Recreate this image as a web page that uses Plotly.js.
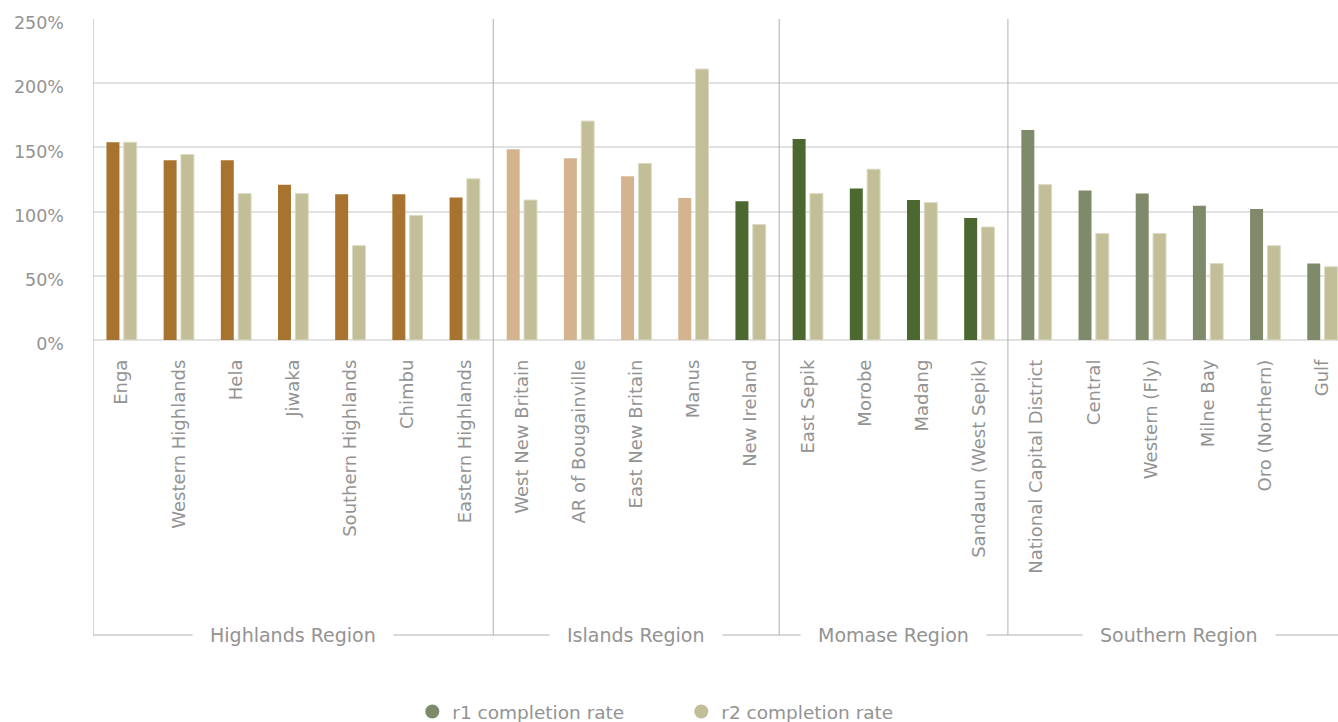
<!DOCTYPE html>
<html>
<head>
<meta charset="utf-8">
<script src="https://cdn.plot.ly/plotly-3.0.1.min.js"></script>
<style>html,body{margin:0;padding:0;background:#fff;}#chart{width:1338px;height:722px;}</style>
</head>
<body>
<div id="chart"></div>
<script>
// ---- data ----
const categories = ['Enga','Western Highlands','Hela','Jiwaka','Southern Highlands','Chimbu','Eastern Highlands',
  'West New Britain','AR of Bougainville','East New Britain','Manus','New Ireland',
  'East Sepik','Morobe','Madang','Sandaun (West Sepik)',
  'National Capital District','Central','Western (Fly)','Milne Bay','Oro (Northern)','Gulf'];
const regions = ['Highlands Region','Islands Region','Momase Region','Southern Region'];
const regionSizes = [7, 5, 4, 6];
const r1 = [154, 140, 140, 121, 113.5, 113.5, 111,
  148.5, 141.5, 127.5, 110.5, 108,
  156.5, 118, 109, 95,
  163.5, 116.5, 114, 104.5, 102, 59.5];
const r2 = [154, 144.5, 114, 114, 73.5, 97, 125.5,
  109, 170.5, 137.5, 211, 90,
  114, 133, 107, 88,
  121, 83, 83, 59.5, 73.5, 57];
const seriesNames = ['r1 completion rate', 'r2 completion rate'];
const yTicks = [0, 50, 100, 150, 200, 250];
const yTickText = ['0%', '50%', '100%', '150%', '200%', '250%'];

// ---- styles ----
const C_HIGH = '#a8732e', C_ISL = '#d4b48e', C_MOM = '#4a682f', C_SOU = '#7f8a6a', C_R2 = '#c2bf98';
const r1Colors = [C_HIGH,C_HIGH,C_HIGH,C_HIGH,C_HIGH,C_HIGH,C_HIGH,
  C_ISL,C_ISL,C_ISL,C_ISL,C_MOM,
  C_MOM,C_MOM,C_MOM,C_MOM,
  C_SOU,C_SOU,C_SOU,C_SOU,C_SOU,C_SOU];
const FONT = 'DejaVu Sans, sans-serif';
const GRAY = '#939393';
const LINE = '#b0b0b0';

const W = 1338, H = 722;
const mL = 92.6, mT = 19, plotH = 321;
const plotW = W - mL;
const catW = 57.2;
const xMax = -0.5 + plotW / catW;
const zeroPx = mT + plotH;
const yBracket = -(635 - zeroPx) / plotH;
const yLegend = -(712 - zeroPx) / plotH;

const idx = categories.map((_, i) => i);

const traces = [
  {type: 'bar', x: idx, y: r1, name: seriesNames[0], marker: {color: r1Colors}, showlegend: false},
  {type: 'bar', x: idx, y: r2, name: seriesNames[1], marker: {color: C_R2, line: {color: '#dcdac4', width: 1}}, showlegend: false},
  {type: 'scatter', mode: 'markers', x: [null], y: [null], name: seriesNames[0], marker: {symbol: 'circle', size: 14, color: C_SOU}},
  {type: 'scatter', mode: 'markers', x: [null], y: [null], name: seriesNames[1], marker: {symbol: 'circle', size: 14, color: C_R2}}
];

const shapes = [];
const annotations = [];
shapes.push({type: 'line', xref: 'x', yref: 'paper', x0: -0.5, x1: -0.5, y0: 1, y1: yBracket, line: {color: LINE, width: 1}});
shapes.push({type: 'line', xref: 'paper', yref: 'paper', x0: 0, x1: 1, y0: yBracket, y1: yBracket, line: {color: LINE, width: 1}});
let start = 0;
regions.forEach((r, k) => {
  const end = start + regionSizes[k];
  if (k > 0) {
    shapes.push({type: 'line', xref: 'x', yref: 'paper', x0: start - 0.5, x1: start - 0.5, y0: 1, y1: yBracket, line: {color: LINE, width: 1}});
  }
  annotations.push({xref: 'x', yref: 'paper', x: (start + end - 1) / 2, y: yBracket, text: r, showarrow: false,
    font: {family: FONT, size: 19, color: GRAY}, bgcolor: '#ffffff', borderpad: 17, xanchor: 'center', yanchor: 'middle'});
  start = end;
});

const layout = {
  width: W, height: H,
  margin: {l: mL, r: 0, t: mT, b: H - mT - plotH, pad: 0, autoexpand: false},
  paper_bgcolor: '#fff', plot_bgcolor: '#fff',
  font: {family: FONT, color: GRAY},
  barmode: 'group', bargap: 0.395, bargroupgap: 0.25,
  xaxis: {
    type: 'linear', range: [-0.5, xMax], tickvals: idx, ticktext: categories, tickangle: -90,
    showgrid: false, zeroline: false, showline: false, ticks: '', ticklabelstandoff: 15,
    tickfont: {family: FONT, size: 18, color: GRAY}, fixedrange: true, automargin: false
  },
  yaxis: {
    range: [0, 250], tickvals: yTicks, ticktext: yTickText, showgrid: true, gridcolor: '#e2e2e2', gridwidth: 2,
    zeroline: true, zerolinecolor: '#e2e2e2', zerolinewidth: 2, showline: false, ticks: '',
    ticklabelstandoff: 28, ticklabelshift: 4, tickfont: {family: FONT, size: 17.5, color: GRAY}, fixedrange: true, automargin: false
  },
  showlegend: true,
  legend: {orientation: 'h', x: (432 - 20 - mL) / plotW, xanchor: 'left', y: yLegend, yanchor: 'middle',
    font: {family: FONT, size: 18.5, color: GRAY}, entrywidth: 224, entrywidthmode: 'pixels', bgcolor: 'rgba(0,0,0,0)'},
  shapes: shapes, annotations: annotations
};

Plotly.newPlot('chart', traces, layout, {displayModeBar: false, staticPlot: true});
</script>
</body>
</html>
